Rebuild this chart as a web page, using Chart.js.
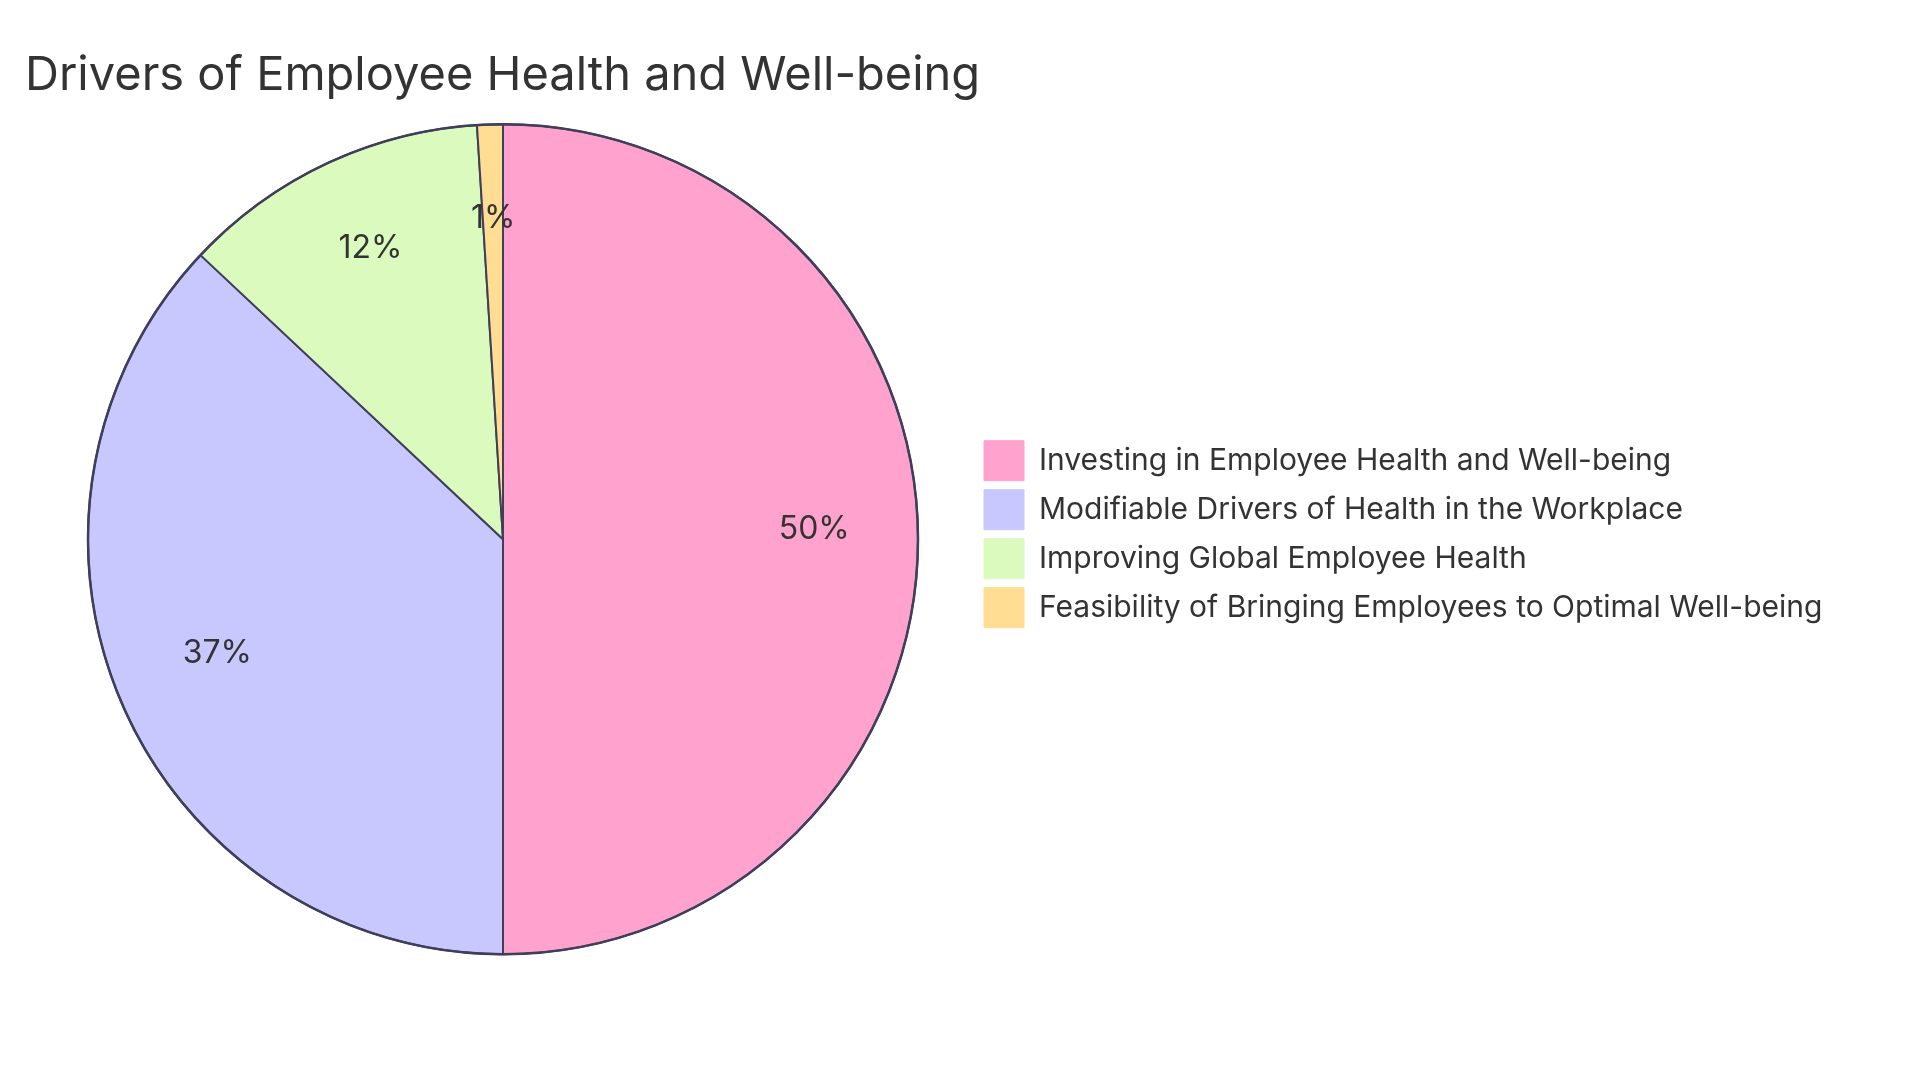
<!DOCTYPE html>
<html>
<head>
<meta charset="utf-8">
<script src="https://cdn.jsdelivr.net/npm/chart.js@4.4.1/dist/chart.umd.min.js"></script>
<style>
html, body { margin: 0; padding: 0; background: #ffffff; }
#wrap { width: 1920px; height: 1080px; position: relative; }
canvas { display: block; }
</style>
</head>
<body>
<div id="wrap"><canvas id="c" width="1920" height="1080"></canvas></div>
<script>
const titleText = 'Drivers of Employee Health and Well-being';
const categories = [
  'Investing in Employee Health and Well-being',
  'Modifiable Drivers of Health in the Workplace',
  'Improving Global Employee Health',
  'Feasibility of Bringing Employees to Optimal Well-being'
];
const values = [50, 37, 12, 1];
const sliceColors = ['#FFA3CE', '#C8C8FF', '#DBFABD', '#FFDD92'];

const FONT = 'Inter, "Open Sans", sans-serif';
const TEXT_COLOR = '#333333';
const STROKE = '#3f3f5c';

const pctLabels = {
  id: 'pctLabels',
  afterDatasetsDraw(chart) {
    const ctx = chart.ctx;
    const meta = chart.getDatasetMeta(0);
    const data = chart.data.datasets[0].data;
    const total = data.reduce((a, b) => a + b, 0);
    ctx.save();
    // outer ring stroke (slightly heavier than slice edges)
    const a0 = meta.data[0].getProps(['x', 'y', 'outerRadius'], true);
    ctx.beginPath();
    ctx.arc(a0.x, a0.y, a0.outerRadius, 0, Math.PI * 2);
    ctx.lineWidth = 2.5;
    ctx.strokeStyle = STROKE;
    ctx.stroke();
    ctx.font = '32px ' + FONT;
    ctx.fillStyle = TEXT_COLOR;
    ctx.textAlign = 'center';
    ctx.textBaseline = 'alphabetic';
    meta.data.forEach((arc, i) => {
      const p = arc.getProps(['x', 'y', 'startAngle', 'endAngle', 'outerRadius'], true);
      const mid = (p.startAngle + p.endAngle) / 2;
      const r = p.outerRadius * 0.75;
      const x = p.x + Math.cos(mid) * r;
      const y = p.y + Math.sin(mid) * r;
      ctx.fillText(Math.round(data[i] / total * 100) + '%', x, y);
    });
    ctx.restore();
  }
};

const blockShift = {
  id: 'blockShift',
  afterLayout(chart) {
    if (chart.legend) {
      chart.legend.top -= 5;
      chart.legend.bottom -= 5;
    }
    if (chart.titleBlock) {
      chart.titleBlock.left -= 6;
      chart.titleBlock.right -= 6;
    }
  }
};

const LEGEND_PAD = 9;
const chart = new Chart(document.getElementById('c'), {
  type: 'pie',
  data: {
    labels: categories,
    datasets: [{
      data: values,
      backgroundColor: sliceColors,
      borderColor: STROKE,
      borderWidth: 2,
      radius: 415
    }]
  },
  options: {
    responsive: false,
    animation: false,
    layout: { padding: { left: 31, right: 90, top: 0, bottom: 110 } },
    plugins: {
      title: {
        display: true,
        text: titleText,
        align: 'start',
        color: TEXT_COLOR,
        font: { family: FONT, size: 47, weight: 'normal' },
        padding: { top: 48, bottom: 4 }
      },
      legend: {
        display: true,
        position: 'right',
        align: 'center',
        fullSize: false,
        labels: {
          boxWidth: 40,
          boxHeight: 40,
          padding: LEGEND_PAD,
          color: TEXT_COLOR,
          font: { family: FONT, size: 30 },
          generateLabels(ch) {
            return ch.data.labels.map((t, i) => ({
              text: t,
              fillStyle: sliceColors[i],
              strokeStyle: sliceColors[i],
              lineWidth: 1,
              fontColor: TEXT_COLOR,
              hidden: false,
              index: i
            }));
          }
        }
      },
      tooltip: { enabled: false }
    }
  },
  plugins: [pctLabels, blockShift]
});

// align legend boxes to start near x=984
const dx = chart.legend.left + LEGEND_PAD - 984;
chart.options.layout.padding.right += dx;
chart.update();
</script>
</body>
</html>
